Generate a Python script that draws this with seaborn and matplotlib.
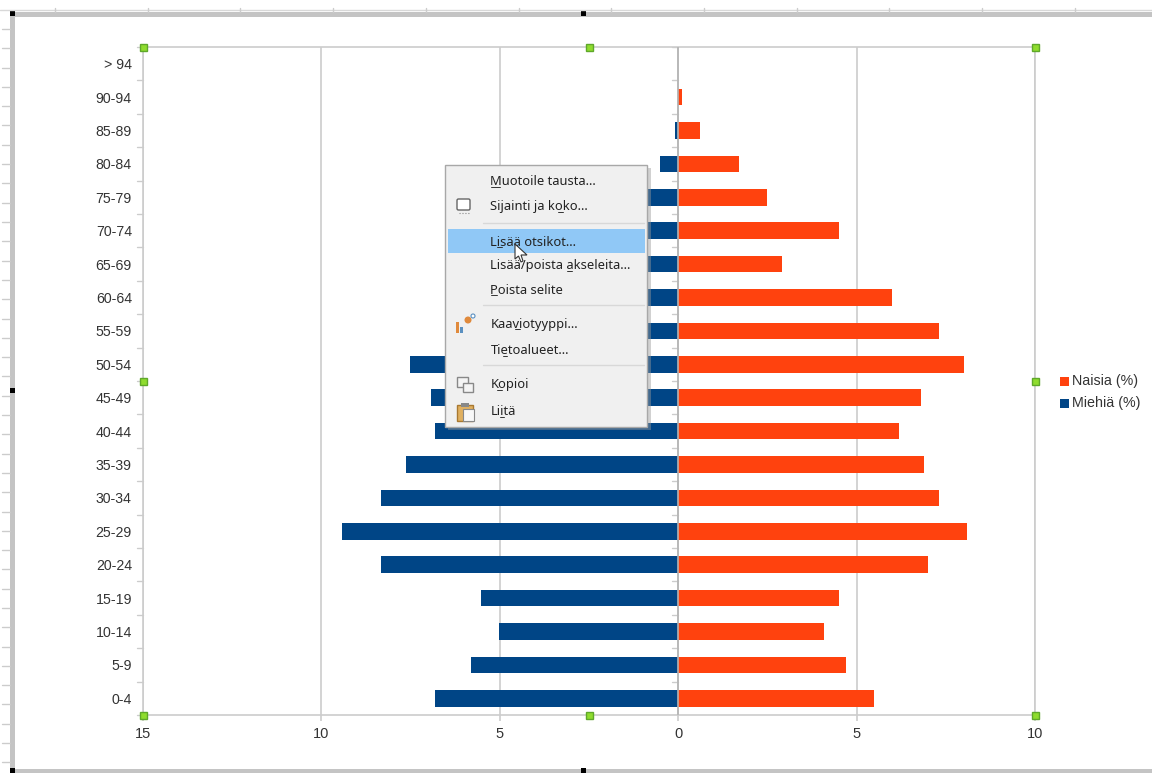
import matplotlib
matplotlib.use("Agg")
import matplotlib.pyplot as plt
import pandas as pd
import seaborn as sns
from matplotlib.patches import Rectangle, FancyBboxPatch

W, H = 1152, 773

age_groups = ["> 94", "90-94", "85-89", "80-84", "75-79", "70-74", "65-69", "60-64", "55-59", "50-54",
              "45-49", "40-44", "35-39", "30-34", "25-29", "20-24", "15-19", "10-14", "5-9", "0-4"]
naisia = [0, 0.1, 0.6, 1.7, 2.5, 4.5, 2.9, 6.0, 7.3, 8.0,
          6.8, 6.2, 6.9, 7.3, 8.1, 7.0, 4.5, 4.1, 4.7, 5.5]
miehia = [0, 0, 0.1, 0.5, 2.5, 4.0, 3.2, 5.2, 6.4, 7.52,
          6.92, 6.82, 7.62, 8.32, 9.42, 8.32, 5.52, 5.02, 5.82, 6.82]
x_ticks = [-15, -10, -5, 0, 5, 10]
x_tick_labels = ["15", "10", "5", "0", "5", "10"]
menu_labels = ["Muotoile tausta...", "Sijainti ja koko...", "Lisää otsikot...", "Lisää/poista akseleita...",
               "Poista selite", "Kaaviotyyppi...", "Tietoalueet...", "Kopioi", "Liitä"]

GREY = "#cccccc"
FEMALE = "#ff420e"
MALE = "#004586"
TEXT = "#333333"

sns.set_theme(style="white")
plt.rcParams["font.family"] = ["Liberation Sans", "DejaVu Sans"]

fig = plt.figure(figsize=(W / 100, H / 100), dpi=100, facecolor="white")
ax = fig.add_axes([143 / W, 1 - 715 / H, (1035 - 143) / W, (715 - 47) / H])

df = pd.DataFrame({"ikä": age_groups, "Naisia (%)": naisia, "Miehiä (%)": [-v for v in miehia]})
long = df.melt(id_vars="ikä", var_name="sarja", value_name="osuus")
sns.barplot(data=long, y="ikä", x="osuus", hue="sarja", order=age_groups, orient="y",
            palette={"Naisia (%)": FEMALE, "Miehiä (%)": MALE}, dodge=False, width=0.5,
            saturation=1, legend=False, ax=ax, zorder=3, linewidth=0)

ax.set_xlim(-15, 10)
ax.set_ylim(len(age_groups) - 0.5, -0.5)
ax.set_xlabel("")
ax.set_ylabel("")
ax.set_xticks(x_ticks)
ax.set_xticklabels(x_tick_labels, fontsize=10.5, color=TEXT)
ax.set_yticks(range(len(age_groups)))
ax.set_yticklabels(age_groups, fontsize=10.2, color=TEXT, va="center_baseline")
ax.tick_params(axis="y", length=0, pad=8)
ax.tick_params(axis="x", length=4, color=GREY, width=1.2, pad=5, bottom=True)
ax.grid(axis="x", color=GREY, lw=1.2, zorder=1)
ax.set_axisbelow(True)
for s in ax.spines.values():
    s.set_color(GREY)
    s.set_linewidth(1.2)
for i in range(len(age_groups) + 1):
    ax.plot([-15.17, -15], [i - 0.5, i - 0.5], color=GREY, lw=1, clip_on=False, zorder=2)
    ax.plot([-0.17, 0], [i - 0.5, i - 0.5], color=GREY, lw=1, zorder=2)
ax.axvline(0, color="#b4b4b4", lw=1.2, zorder=4)

# overlay in pixel coordinates: editor chrome, legend, context menu
ov = fig.add_axes([0, 0, 1, 1], facecolor="none")
ov.set_xlim(0, W)
ov.set_ylim(H, 0)
ov.axis("off")

# frame and rulers
for rect in [(10, 12, W - 10, 4.5), (10, 12, 5, H - 12), (10, 768.5, W - 10, 4.5)]:
    ov.add_patch(Rectangle(rect[:2], rect[2], rect[3], color="#c4c4c4", lw=0))
ov.plot([0, W], [9.5, 9.5], color="#d8d8d8", lw=1)
x = 55.0
while x < W:
    ov.plot([x, x], [8, 12], color="#cccccc", lw=1)
    x += 92.7
y = 29.0
while y < H - 5:
    ov.plot([2, 10], [y, y], color="#cccccc", lw=1)
    y += 19.3
for hx, hy in [(12, 13), (583, 13), (12, 390), (12, 770), (583, 770)]:
    ov.add_patch(Rectangle((hx - 2.5, hy - 2.5), 5, 5, color="black", lw=0))
for hx, hy in [(143, 47), (589, 47), (1035, 47), (143, 381), (1035, 381), (143, 715), (589, 715), (1035, 715)]:
    ov.add_patch(Rectangle((hx - 3.5, hy - 3.5), 7, 7, fc="#8fdc2e", ec="#5fa82a", lw=1, zorder=6))

# legend
ov.add_patch(Rectangle((1060, 377), 9, 9, color=FEMALE, lw=0))
ov.add_patch(Rectangle((1060, 399), 9, 9, color=MALE, lw=0))
ov.text(1072, 381.5, "Naisia (%)", fontsize=10.3, color=TEXT, va="center")
ov.text(1072, 403.5, "Miehiä (%)", fontsize=10.3, color=TEXT, va="center")

# context menu
ov.add_patch(Rectangle((448, 168), 203, 262, color="#999999", alpha=0.45, lw=0, zorder=7))
ov.add_patch(Rectangle((445, 165), 202, 262, fc="#f0f0f0", ec="#a8a8a8", lw=1, zorder=8))
ov.add_patch(Rectangle((448, 229), 197, 24, color="#90c8f6", lw=0, zorder=9))
menu_y = [181, 206, 241.5, 265, 289.5, 323.5, 350, 384, 411]
for label, my in zip(menu_labels, menu_y):
    ov.text(490.5, my + 0.7, label, fontsize=9.3, color="#222222", va="center", zorder=10,
            family=["Noto Sans", "DejaVu Sans"])
for sy in [223, 305, 365]:
    ov.plot([483, 644], [sy, sy], color="#d8d8d8", lw=1, zorder=9)

# underlined access keys
for x0, x1, uy in [(491, 500, 187), (558, 563, 212), (497, 502, 247), (567, 572, 271), (491, 497, 295),
                   (515, 520, 329), (503, 507, 356), (497, 502, 390), (500, 504, 417)]:
    ov.plot([x0, x1], [uy, uy], color="#333333", lw=0.7, zorder=10)

# menu icons
ov.add_patch(FancyBboxPatch((457, 199), 13, 11, boxstyle="round,pad=0,rounding_size=1.5",
                            fc="white", ec="#666666", lw=1, zorder=10))
ov.plot([459, 470], [212.5, 212.5], color="#888888", lw=0.8, ls=":", zorder=10)
ov.add_patch(Rectangle((456, 322), 2.5, 11, color="#e08a3c", lw=0, zorder=10))
ov.add_patch(Rectangle((460, 327), 2.5, 6, color="#5a90c0", lw=0, zorder=10))
ov.add_patch(plt.Circle((468, 320), 3.5, color="#e08a3c", lw=0, zorder=10))
ov.add_patch(plt.Circle((473, 316), 2, fc="white", ec="#5a90c0", lw=0.8, zorder=10))
ov.add_patch(Rectangle((457, 377), 11, 10, fc="#f4f4f4", ec="#888888", lw=1, zorder=10))
ov.add_patch(Rectangle((463, 383), 10, 9, fc="#f4f4f4", ec="#888888", lw=1, zorder=11))
ov.add_patch(Rectangle((457, 405), 16, 16, fc="#e0b060", ec="#a87830", lw=1, zorder=10))
ov.add_patch(Rectangle((463, 409), 11, 12, fc="#f8f8f8", ec="#888888", lw=0.8, zorder=11))
ov.add_patch(Rectangle((461, 403), 8, 4, fc="#888888", lw=0, zorder=11))

# mouse pointer
ov.fill([515, 515, 518.5, 521, 523, 521, 527], [244, 259, 256, 262, 261, 255, 255],
        fc="white", ec="#333333", lw=0.8, zorder=12)

fig.savefig("out.png", dpi=100)
